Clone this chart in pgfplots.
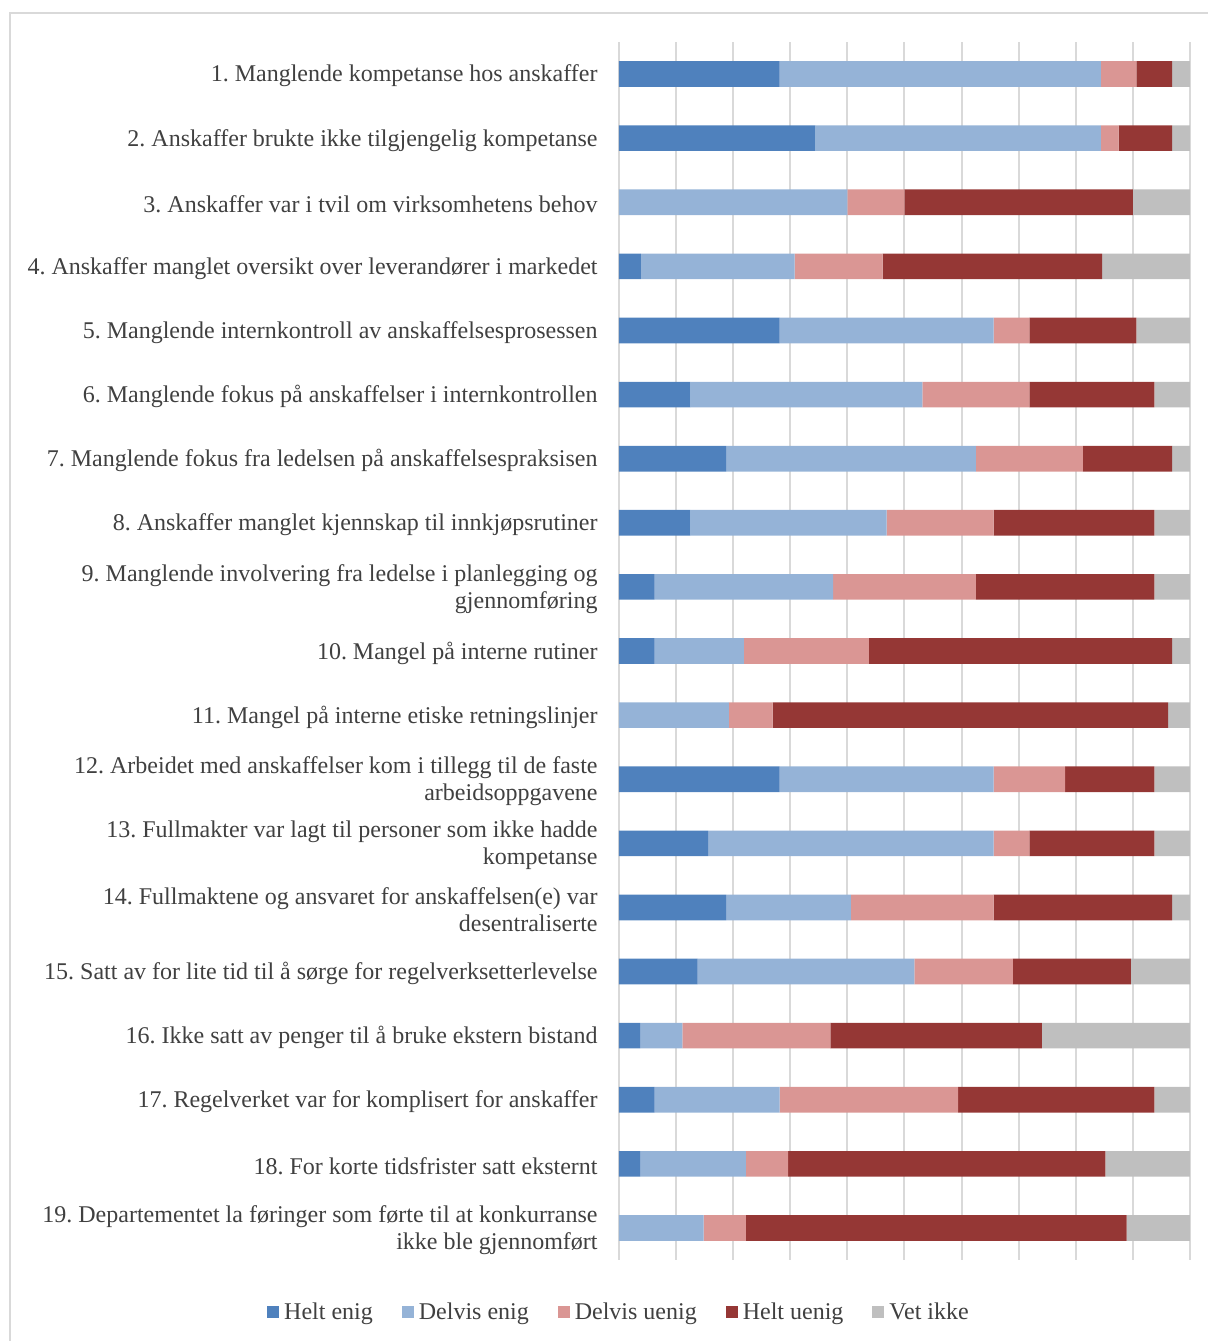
\documentclass[border=0pt]{standalone}
\usepackage{fontspec}
\setmainfont{Liberation Serif}
\usepackage{pgfplots}
\usepackage{pgfplotstable}
\pgfplotsset{compat=1.18}
\frenchspacing

\definecolor{heltenig}{HTML}{4F81BD}
\definecolor{delvisenig}{HTML}{95B3D7}
\definecolor{delvisuenig}{HTML}{DA9694}
\definecolor{heltuenig}{HTML}{953735}
\definecolor{vetikke}{HTML}{BFBFBF}
\definecolor{gridgray}{HTML}{D9D9D9}
\definecolor{labelgray}{HTML}{404040}

% Share of answers (percent) per statement
\pgfplotstableread{
row he de du hu vi
0 28.125 56.25 6.25 6.25 3.125
1 34.375 50 3.125 9.375 3.125
2 0 40 10 40 10
3 3.846 26.923 15.385 38.462 15.385
4 28.125 37.5 6.25 18.75 9.375
5 12.5 40.625 18.75 21.875 6.25
6 18.75 43.75 18.75 15.625 3.125
7 12.5 34.375 18.75 28.125 6.25
8 6.25 31.25 25 31.25 6.25
9 6.25 15.625 21.875 53.125 3.125
10 0 19.231 7.692 69.231 3.846
11 28.125 37.5 12.5 15.625 6.25
12 15.625 50 6.25 21.875 6.25
13 18.75 21.875 25 31.25 3.125
14 13.793 37.931 17.241 20.690 10.345
15 3.704 7.407 25.926 37.037 25.926
16 6.25 21.875 31.25 34.375 6.25
17 3.704 18.519 7.407 55.556 14.815
18 0 14.815 7.407 66.667 11.111
}\svar

\begin{document}
\begin{tikzpicture}
\path[use as bounding box] (-309.5pt,-40.5pt) rectangle (294.5pt,630pt);
\draw[gridgray, line width=0.75pt] (-304.5pt,-40.5pt) -- (-304.5pt,623.5pt) -- (294.5pt,623.5pt);
\begin{axis}[
  at={(0pt,0pt)}, anchor=south west,
  scale only axis,
  width=285.5pt, height=609pt,
  xbar stacked,
  bar width=0.4,
  xmin=0, xmax=100,
  ymin=-0.5, ymax=18.5,
  y dir=reverse,
  xtick={0,10,...,100},
  xticklabels={},
  xmajorgrids,
  grid style={gridgray, line width=1pt},
  axis line style={draw=none},
  major tick length=0pt,
  ytick={0,...,18},
  yticklabels={
    {1. Manglende kompetanse hos anskaffer},
    {2. Anskaffer brukte ikke tilgjengelig kompetanse},
    {3. Anskaffer var i tvil om virksomhetens behov},
    {4. Anskaffer manglet oversikt over leverandører i markedet},
    {5. Manglende internkontroll av anskaffelsesprosessen},
    {6. Manglende fokus på anskaffelser i internkontrollen},
    {7. Manglende fokus fra ledelsen på anskaffelsespraksisen},
    {8. Anskaffer manglet kjennskap til innkjøpsrutiner},
    {9. Manglende involvering fra ledelse i planlegging og\\gjennomføring},
    {10. Mangel på interne rutiner},
    {11. Mangel på interne etiske retningslinjer},
    {12. Arbeidet med anskaffelser kom i tillegg til de faste\\arbeidsoppgavene},
    {13. Fullmakter var lagt til personer som ikke hadde\\kompetanse},
    {14. Fullmaktene og ansvaret for anskaffelsen(e) var\\desentraliserte},
    {15. Satt av for lite tid til å sørge for regelverksetterlevelse},
    {16. Ikke satt av penger til å bruke ekstern bistand},
    {17. Regelverket var for komplisert for anskaffer},
    {18. For korte tidsfrister satt eksternt},
    {19. Departementet la føringer som førte til at konkurranse\\ikke ble gjennomført}
  },
  yticklabel style={align=right, inner sep=0pt, xshift=-10.5pt, yshift=-1pt,
    font=\fontsize{12}{13.6}\selectfont, text=labelgray},
  legend columns=-1,
  legend style={at={(0,-0.043)}, anchor=center, draw=none,
    font=\fontsize{12}{13.6}\selectfont, text=labelgray,
    nodes={inner sep=1pt},
    /tikz/every odd column/.append style={column sep=1.5pt},
    /tikz/every even column/.append style={column sep=13.5pt}},
  legend image code/.code={\fill[#1] (0pt,-3pt) rectangle (6pt,3pt);},
]
\addplot[fill=heltenig, draw=none] table[x=he, y=row] {\svar};
\addplot[fill=delvisenig, draw=none] table[x=de, y=row] {\svar};
\addplot[fill=delvisuenig, draw=none] table[x=du, y=row] {\svar};
\addplot[fill=heltuenig, draw=none] table[x=hu, y=row] {\svar};
\addplot[fill=vetikke, draw=none] table[x=vi, y=row] {\svar};
\legend{Helt enig, Delvis enig, Delvis uenig, Helt uenig, Vet ikke}
\end{axis}
\end{tikzpicture}
\end{document}
